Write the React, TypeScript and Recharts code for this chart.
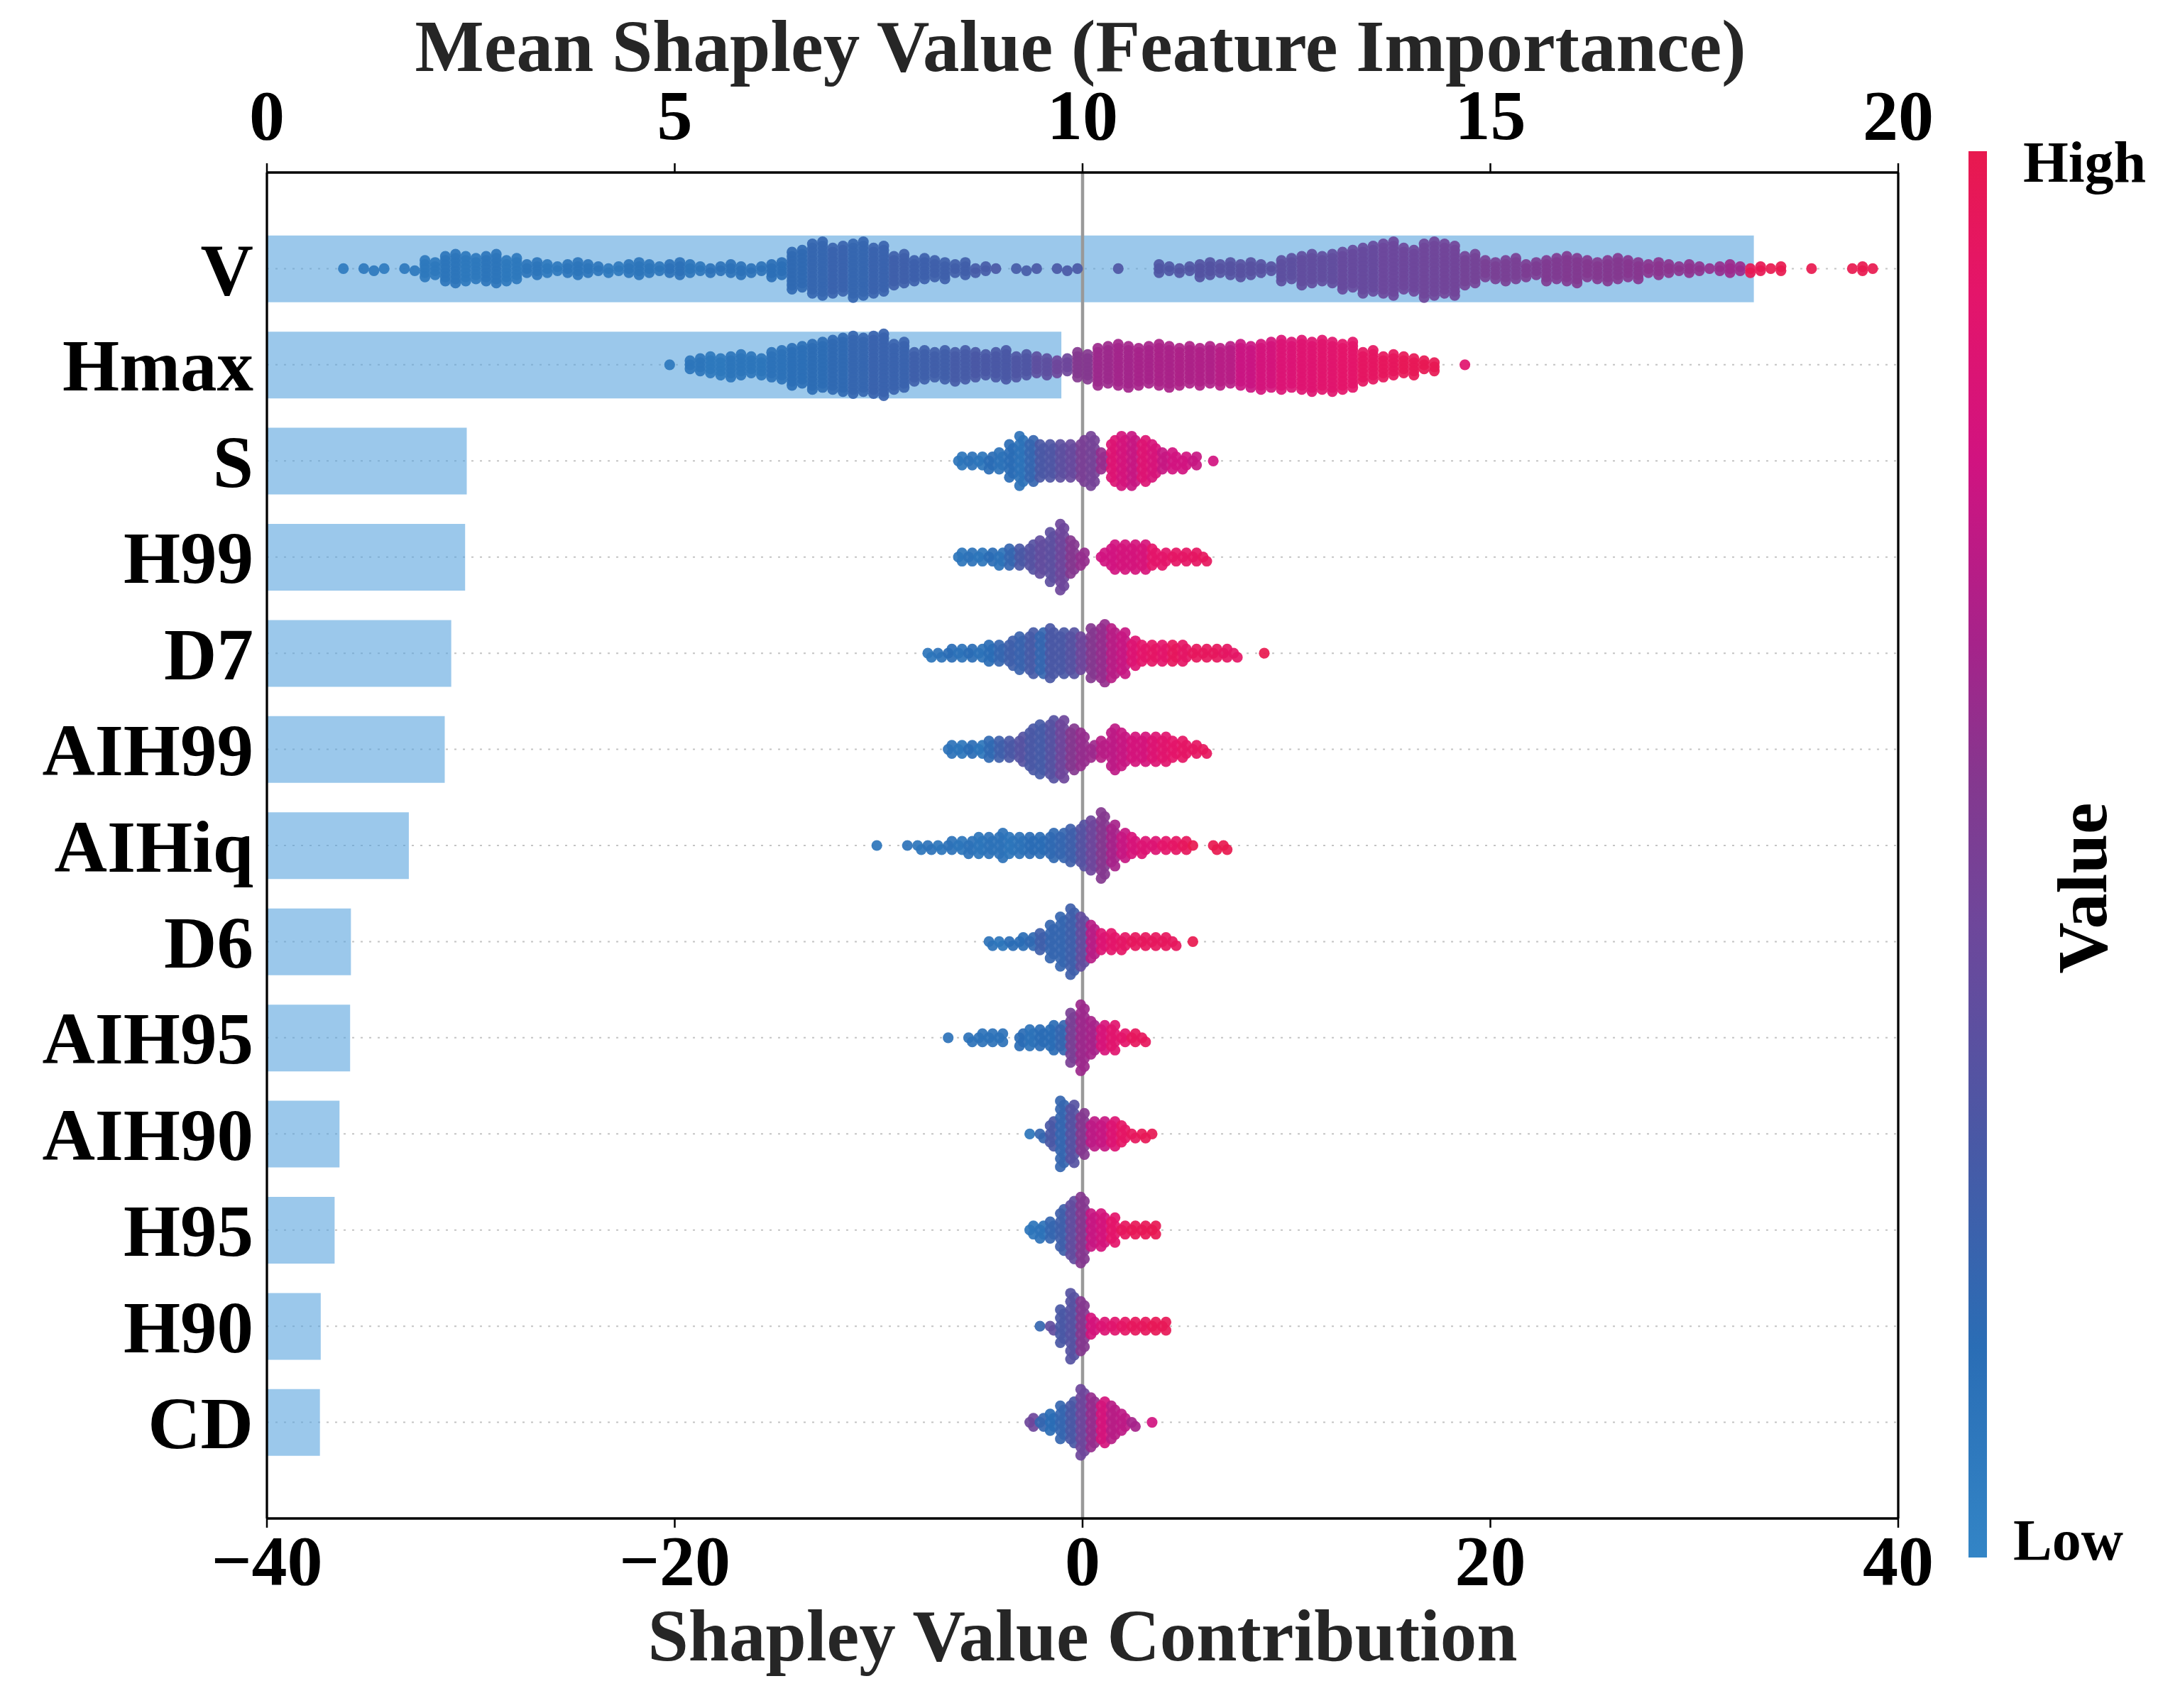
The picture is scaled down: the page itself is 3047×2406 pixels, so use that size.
import { ComposedChart, Bar, Scatter, XAxis, YAxis, CartesianGrid, ReferenceLine } from 'recharts'

document.body.style.margin = '0'

const W = 3047
const H = 2406
const FONT = '"Liberation Serif", "Times New Roman", serif'

const features = ['V', 'Hmax', 'S', 'H99', 'D7', 'AIH99', 'AIHiq', 'D6', 'AIH95', 'AIH90', 'H95', 'H90', 'CD']
const importance = [18.23, 9.74, 2.45, 2.43, 2.26, 2.18, 1.74, 1.03, 1.02, 0.89, 0.83, 0.66, 0.65]
const impTicks = [0, 5, 10, 15, 20]
const shapTicks = [-40, -20, 0, 20, 40]
const rowTicks = [0, 1, 2, 3, 4, 5, 6, 7, 8, 9, 10, 11, 12]

// beeswarm: dots per SHAP bin (first bin centre, bin width)
// and the mean feature value of each bin (0 = low, 1 = high)
const binStart = [-36, -20, -6, -6, -7.5, -6.5, -10, -4.5, -6.5, -2.5, -2.5, -2, -2.5]
const binWidth = [1, 1, 0.5, 0.5, 0.5, 0.5, 0.5, 0.5, 0.5, 0.5, 0.5, 0.5, 0.5]

const countsV = [
  1, 2, 1, 2, 9, 15, 13, 15, 12, 7, 5, 7, 5, 4, 7, 5, 7, 5, 4, 6, 4, 8, 20, 27, 24, 28, 24, 16, 12, 10, 7, 4, 1, 2, 1, 2, 1,
  0, 1, 0, 5, 4, 8, 7, 8, 5, 12, 16, 15, 20, 24, 27, 22, 28, 26, 16, 10, 12, 8, 12, 14, 10, 12, 10, 7, 5, 5, 3, 5, 4, 3,
  0, 1, 0, 3, 1,
]
const colorsV = [
  0.06, 0.08, 0.06, 0.08, 0.08, 0.1, 0.08, 0.1, 0.08, 0.1, 0.08, 0.1, 0.1, 0.08, 0.1, 0.1, 0.12, 0.1, 0.12, 0.12, 0.12,
  0.14, 0.18, 0.2, 0.22, 0.2, 0.22, 0.25, 0.24, 0.25, 0.26, 0.28, 0.3, 0.28, 0.3, 0.3, 0.3, 0.3, 0.32, 0.32, 0.32, 0.33,
  0.34, 0.35, 0.36, 0.36, 0.38, 0.4, 0.4, 0.42, 0.42, 0.44, 0.45, 0.46, 0.47, 0.48, 0.5, 0.5, 0.52, 0.53, 0.54, 0.55,
  0.55, 0.56, 0.57, 0.57, 0.58, 0.6, 0.62, 0.98, 1, 1, 1, 1, 1, 1,
]
const countsHmax = [
  1, 7, 10, 12, 10, 15, 20, 24, 27, 29, 31, 24, 16, 15, 16, 13, 15, 12, 10, 8, 14, 20, 22, 20, 22, 20, 20, 20, 22, 24,
  25, 26, 26, 24, 16, 12, 10, 6, 0, 1,
]
const colorsHmax = [
  0.08, 0.1, 0.08, 0.1, 0.1, 0.12, 0.14, 0.16, 0.18, 0.2, 0.22, 0.22, 0.25, 0.26, 0.28, 0.3, 0.3, 0.32, 0.38, 0.45,
  0.55, 0.62, 0.64, 0.65, 0.66, 0.67, 0.68, 0.7, 0.76, 0.8, 0.84, 0.86, 0.88, 0.9, 0.93, 0.95, 0.97, 0.98, 1, 0.88,
]
const countsS = [3, 3, 3, 4, 5, 9, 13, 11, 9, 9, 9, 9, 11, 13, 5, 11, 13, 13, 11, 9, 5, 5, 4, 3, 0, 1]
const colorsS = [
  0.1, 0.12, 0.1, 0.15, 0.12, 0.15, 0.12, 0.2, 0.3, 0.32, 0.38, 0.42, 0.5, 0.48, 0.6, 0.85, 0.8, 0.75, 0.85, 0.82, 0.75,
  0.78, 0.78, 0.75, 0.78, 0.78,
]
const countsH99 = [3, 3, 3, 3, 4, 5, 5, 7, 9, 13, 17, 9, 4, 0, 3, 7, 7, 7, 7, 5, 4, 3, 3, 3, 2]
const colorsH99 = [
  0.1, 0.12, 0.1, 0.15, 0.12, 0.2, 0.3, 0.35, 0.4, 0.38, 0.45, 0.55, 0.6, 0.65, 0.78, 0.78, 0.8, 0.8, 0.82, 0.9, 0.9,
  0.92, 0.92, 0.93, 0.95,
]
const countsD7 = [2, 2, 3, 3, 3, 3, 5, 5, 7, 9, 11, 11, 13, 11, 11, 9, 13, 15, 13, 11, 7, 5, 5, 5, 5, 5, 3, 3, 3, 3, 2, 0, 0, 1]
const colorsD7 = [
  0.1, 0.12, 0.15, 0.12, 0.15, 0.12, 0.15, 0.2, 0.25, 0.22, 0.28, 0.2, 0.3, 0.3, 0.35, 0.45, 0.55, 0.6, 0.7, 0.75, 0.85,
  0.9, 0.92, 0.9, 0.95, 0.92, 0.95, 0.95, 0.95, 0.93, 0.92, 1, 1, 1,
]
const countsAIH99 = [3, 3, 3, 3, 5, 5, 5, 7, 11, 13, 15, 15, 11, 9, 4, 5, 11, 9, 7, 7, 7, 7, 5, 5, 3, 2]
const colorsAIH99 = [
  0.12, 0.1, 0.15, 0.1, 0.18, 0.25, 0.3, 0.35, 0.3, 0.28, 0.35, 0.45, 0.55, 0.6, 0.62, 0.7, 0.72, 0.75, 0.8, 0.8, 0.85,
  0.88, 0.9, 0.92, 0.93, 0.95,
]
const countsAIHiq = [1, 0, 0, 1, 2, 2, 2, 3, 3, 4, 5, 5, 7, 5, 5, 5, 5, 7, 7, 9, 11, 13, 17, 11, 7, 5, 4, 3, 3, 3, 3, 1, 0, 2, 2]
const colorsAIHiq = [
  0.1, 0.1, 0.1, 0.12, 0.1, 0.12, 0.1, 0.12, 0.1, 0.12, 0.1, 0.12, 0.12, 0.1, 0.12, 0.15, 0.15, 0.18, 0.2, 0.25, 0.35,
  0.45, 0.55, 0.65, 0.75, 0.82, 0.85, 0.85, 0.9, 0.92, 0.95, 1, 1, 1, 1,
]
const countsD6 = [2, 2, 2, 3, 3, 5, 9, 13, 17, 13, 9, 5, 5, 4, 3, 3, 3, 3, 2, 0, 1]
const colorsD6 = [
  0.12, 0.1, 0.15, 0.15, 0.18, 0.25, 0.2, 0.2, 0.25, 0.4, 0.7, 0.85, 0.9, 0.92, 0.95, 0.95, 0.95, 0.95, 0.95, 1, 1,
]
const countsAIH95 = [1, 0, 2, 3, 3, 3, 0, 4, 5, 5, 7, 7, 13, 17, 9, 7, 7, 3, 3, 2]
const colorsAIH95 = [
  0.12, 0.12, 0.12, 0.12, 0.12, 0.12, 0.12, 0.15, 0.12, 0.15, 0.15, 0.2, 0.5, 0.62, 0.65, 0.82, 0.88, 0.9, 0.95, 0.95,
]
const countsAIH90 = [1, 2, 7, 17, 15, 11, 7, 7, 7, 5, 2, 2, 1]
const colorsAIH90 = [0.1, 0.2, 0.3, 0.2, 0.35, 0.55, 0.72, 0.75, 0.85, 0.92, 0.95, 0.97, 0.98]
const countsH95 = [3, 4, 5, 11, 15, 17, 9, 9, 7, 3, 3, 3, 3]
const colorsH95 = [0.1, 0.12, 0.2, 0.25, 0.4, 0.55, 0.75, 0.8, 0.9, 0.95, 0.97, 0.97, 0.98]
const countsH90 = [1, 2, 9, 17, 13, 5, 3, 3, 3, 3, 3, 3, 3]
const colorsH90 = [0.2, 0.4, 0.3, 0.35, 0.55, 0.8, 0.85, 0.88, 0.92, 0.95, 0.95, 0.97, 0.97]
const countsCD = [3, 3, 5, 9, 11, 17, 13, 11, 9, 5, 2, 0, 1]
const colorsCD = [0.45, 0.2, 0.15, 0.2, 0.3, 0.45, 0.6, 0.8, 0.7, 0.72, 0.65, 0.7, 0.78]

const swarmCounts = [
  countsV, countsHmax, countsS, countsH99, countsD7, countsAIH99, countsAIHiq,
  countsD6, countsAIH95, countsAIH90, countsH95, countsH90, countsCD,
]
const swarmColors = [
  colorsV, colorsHmax, colorsS, colorsH99, colorsD7, colorsAIH99, colorsAIHiq,
  colorsD6, colorsAIH95, colorsAIH90, colorsH95, colorsH90, colorsCD,
]

// blue -> purple -> crimson colour map of the feature value
const colorStops: [number, string][] = [
  [0, '#3385c6'],
  [0.15, '#2a6db5'],
  [0.3, '#4a58a5'],
  [0.45, '#6e479b'],
  [0.55, '#84388f'],
  [0.65, '#a6238a'],
  [0.78, '#d11380'],
  [0.9, '#e4156a'],
  [1, '#e8194f'],
]

const rgb = (h: string) => [1, 3, 5].map((i) => parseInt(h.slice(i, i + 2), 16))

function featureColor(v: number) {
  for (let i = 1; i < colorStops.length; i++) {
    const [p1, c1] = colorStops[i]
    if (v <= p1) {
      const [p0, c0] = colorStops[i - 1]
      const t = (v - p0) / (p1 - p0)
      const a = rgb(c0)
      const b = rgb(c1)
      return `rgb(${a.map((x, k) => Math.round(x + (b[k] - x) * t)).join(',')})`
    }
  }
  return colorStops[colorStops.length - 1][1]
}

const ROW_PX = 135.4
const STEP_PX = 5.8
const DOT_R = 7.6

// stack the dots of each bin above and below the feature's row, like a beeswarm
const points: { x: number; y: number; c: number }[] = []
features.forEach((_, row) => {
  const cols = Math.round(binWidth[row] / 0.5)
  swarmCounts[row].forEach((n, k) => {
    const centre = binStart[row] + k * binWidth[row]
    for (let j = 0; j < n; j++) {
      const level = j === 0 ? 0 : j % 2 === 1 ? (j + 1) / 2 : -j / 2
      const col = Math.floor((j + 1) / 2) % cols
      // single-column bins get a small zigzag so the swarm is packed rather than striped
      const dx = cols > 1 ? (col - (cols - 1) / 2) * 0.5 : ((Math.abs(level) % 2) - 0.5) * 0.18
      points.push({ x: centre + dx, y: row + (level * STEP_PX) / cols / ROW_PX, c: swarmColors[row][k] })
    }
  })
})

const barData = features.map((name, i) => ({ name, imp: importance[i] }))

const Dot = (props: any) => (
  <circle cx={props.cx} cy={props.cy} r={DOT_R} fill={featureColor(props.payload.c)} fillOpacity={0.92} />
)

const tickStyle = { fontSize: 100, fontWeight: 700, fill: '#000', fontFamily: FONT }
const minus = (v: number) => String(v).replace('-', '\u2212')

export default function App() {
  return (
    <div style={{ position: 'relative', width: W, height: H, background: '#fff' }}>
      <ComposedChart
        width={W}
        height={H}
        data={barData}
        layout="vertical"
        margin={{ top: 0, right: 373, bottom: 0, left: 0 }}
      >
        <CartesianGrid
          yAxisId="num"
          xAxisId="shap"
          vertical={false}
          stroke="#c4c4c4"
          strokeWidth={2}
          strokeDasharray="3 9"
        />
        <XAxis
          xAxisId="imp"
          orientation="top"
          type="number"
          domain={[0, 20]}
          ticks={impTicks}
          height={243}
          allowDataOverflow
          axisLine={{ stroke: '#000', strokeWidth: 3.3 }}
          tickLine={{ stroke: '#000', strokeWidth: 2.5 }}
          tickSize={13}
          tickMargin={34}
          tick={tickStyle}
        />
        <XAxis
          xAxisId="shap"
          dataKey="x"
          type="number"
          domain={[-40, 40]}
          ticks={shapTicks}
          height={267}
          allowDataOverflow
          axisLine={{ stroke: '#000', strokeWidth: 3.3 }}
          tickLine={{ stroke: '#000', strokeWidth: 2.5 }}
          tickSize={13}
          tickMargin={9}
          tickFormatter={minus}
          tick={tickStyle}
        />
        <YAxis
          yAxisId="cat"
          type="category"
          dataKey="name"
          width={376}
          padding={{ top: 67.7, bottom: 67.7 }}
          axisLine={{ stroke: '#000', strokeWidth: 3.3 }}
          tickLine={false}
          tickSize={0}
          tickMargin={19}
          interval={0}
          tick={{ ...tickStyle, fontSize: 103 }}
        />
        <YAxis yAxisId="num" type="number" dataKey="y" domain={[-1, 13]} ticks={rowTicks} hide allowDataOverflow />
        <Bar
          xAxisId="imp"
          yAxisId="cat"
          dataKey="imp"
          barSize={94}
          fill="#58a3de"
          fillOpacity={0.6}
          isAnimationActive={false}
        />
        <Scatter data={points} xAxisId="shap" yAxisId="num" shape={Dot} isAnimationActive={false} />
        <ReferenceLine x={0} xAxisId="shap" yAxisId="num" stroke="#999" strokeWidth={4.5} />
        <ReferenceLine x={40} xAxisId="shap" yAxisId="num" stroke="#000" strokeWidth={3.3} ifOverflow="visible" />
      </ComposedChart>
      <svg width={W} height={H} style={{ position: 'absolute', left: 0, top: 0, pointerEvents: 'none' }}>
        <defs>
          <linearGradient id="cbar" x1="0" y1="1" x2="0" y2="0">
            {colorStops.map(([p, c]) => (
              <stop key={p} offset={p} stopColor={c} />
            ))}
          </linearGradient>
        </defs>
        <text x={1522} y={100} textAnchor="middle" fontFamily={FONT} fontWeight={700} fontSize={103} fill="#262626">
          Mean Shapley Value (Feature Importance)
        </text>
        <text x={1525} y={2339} textAnchor="middle" fontFamily={FONT} fontWeight={700} fontSize={103} fill="#262626">
          Shapley Value Contribution
        </text>
        <rect x={2773} y={213} width={26} height={1981} fill="url(#cbar)" />
        <text x={2850} y={256} fontFamily={FONT} fontWeight={700} fontSize={82} fill="#000">
          High
        </text>
        <text x={2836} y={2197} fontFamily={FONT} fontWeight={700} fontSize={82} fill="#000">
          Low
        </text>
        <text
          x={2933}
          y={1251}
          textAnchor="middle"
          dominantBaseline="central"
          transform="rotate(-90 2933 1251)"
          fontFamily={FONT}
          fontWeight={700}
          fontSize={100}
          fill="#000"
        >
          Value
        </text>
      </svg>
    </div>
  )
}
